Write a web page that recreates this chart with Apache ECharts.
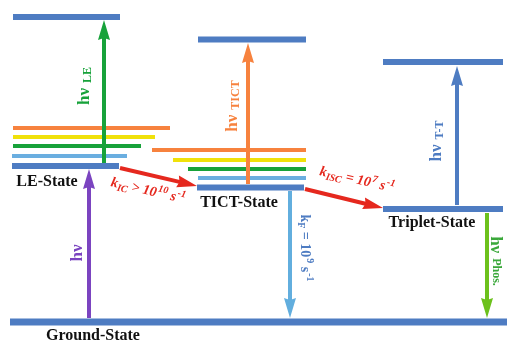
<!DOCTYPE html>
<html>
<head>
<meta charset="utf-8">
<script src="https://cdn.jsdelivr.net/npm/echarts@6/dist/echarts.min.js"></script>
<style>html,body{margin:0;padding:0;background:#fff}#c{width:507px;height:342px}</style>
</head>
<body>
<div id="c"></div>
<script>
// ---- data: electronic states (x-start, x-end, level position) ----
const stateNames = ['Ground', 'LE', 'LE*', 'TICT', 'TICT*', 'T1', 'Tn'];
const stateX0 = [10, 12, 13, 197, 198, 383, 383];
const stateX1 = [507, 119, 120, 304, 306, 503, 503];
const stateY  = [322, 166, 17, 187.5, 39.5, 209, 62];

// vibrational sub-levels of LE and TICT states (orange, yellow, green, light blue)
const vibLEX0 = [13, 13, 13, 12];
const vibLEX1 = [170, 155, 141, 127];
const vibLEY  = [128, 137, 146, 156];
const vibTICTX0 = [152, 173, 188, 198];
const vibTICTX1 = [306, 306, 306, 306];
const vibTICTY  = [150, 160, 169, 178];

// transitions (tail -> tip)
const arrowNames = ['hv', 'hvLE', 'hvTICT', 'hvTT', 'kF', 'phos', 'kIC', 'kISC'];
const arrowX0 = [89, 104, 248, 457, 290, 487, 120, 305];
const arrowY0 = [318, 163, 184, 205, 191, 213, 168, 189];
const arrowX1 = [89, 104, 248, 457, 290, 487, 197, 383];
const arrowY1 = [169, 20, 43, 66, 318, 318, 186, 208];

// text labels and their anchors
const labelTexts = [
  '{s|LE-State}', '{s|TICT-State}', '{s|Triplet-State}', '{s|Ground-State}',
  '{h|hν}{u|LE}', '{h|hν}{u|TICT}', '{h|hν}{u|T-T}', '{h|hν}',
  '{k|k}{d|F}{k| = 10}{p|9}{k| s}{p|-1}', '{h|hν}{q|Phos.}',
  '{k|k}{d|IC}{k| > 10}{p|10}{k| s}{p|-1}', '{k|k}{d|ISC}{k| = 10}{p|7}{k| s}{p|-1}'
];
const labelX = [47, 239, 432, 93, 85, 233, 437, 78, 305, 495, 148, 357];
const labelY = [182, 203, 223, 336, 86, 106, 141, 253, 248, 261, 191, 180];
const labelRot = [0, 0, 0, 0, 90, 90, 90, 90, -90, -90, -13, -13];

// ---- styles ----
const BLUE = '#4e7cc2';
const stateWidth = [7, 6, 6, 6, 6, 6, 6];
const vibColors = ['#f7823e', '#f0e10a', '#17a23a', '#6aaee0'];
const arrowColors = ['#7b44c0', '#17a23a', '#f7823e', '#4e7cc2', '#62aede', '#6cc11c', '#e5281e', '#e5281e'];
const labelColors = ['#111', '#111', '#111', '#111', '#17a23a', '#f7823e', '#4e7cc2', '#7b44c0', '#4e7cc2', '#3aa83a', '#e5281e', '#e5281e'];
const labelItalic = [false, false, false, false, false, false, false, false, false, false, true, true];
const FONT = '"Liberation Serif","Times New Roman",serif';

const levelData = [];
stateNames.forEach((n, i) => levelData.push([stateX0[i], stateX1[i], stateY[i], stateWidth[i], BLUE]));
vibLEY.forEach((y, i) => levelData.push([vibLEX0[i], vibLEX1[i], y, 4, vibColors[i]]));
vibTICTY.forEach((y, i) => levelData.push([vibTICTX0[i], vibTICTX1[i], y, 4, vibColors[i]]));

const arrowData = arrowNames.map((n, i) => [arrowX0[i], arrowY0[i], arrowX1[i], arrowY1[i]]);
const labelData = labelTexts.map((t, i) => [labelX[i], labelY[i], i]);

function richFor(i) {
  const c = labelColors[i];
  const st = labelItalic[i] ? 'italic' : 'normal';
  const base = {fontFamily: FONT, fontWeight: 'bold', fill: c, fontStyle: st, verticalAlign: 'middle'};
  return {
    s: Object.assign({}, base, {fontSize: 16}),
    h: Object.assign({}, base, {fontSize: 17}),
    u: Object.assign({}, base, {fontSize: 12, padding: [6, 0, 0, 5]}),
    q: Object.assign({}, base, {fontSize: 12, padding: [0, 0, 2, 5]}),
    k: Object.assign({}, base, {fontSize: 14}),
    d: Object.assign({}, base, {fontSize: 10, padding: [8, 0, 0, 0]}),
    p: Object.assign({}, base, {fontSize: 10, padding: [0, 0, 9, 1]})
  };
}

const chart = echarts.init(document.getElementById('c'), null, {renderer: 'canvas'});
chart.setOption({
  animation: false,
  backgroundColor: '#fff',
  grid: {left: 0, right: 0, top: 0, bottom: 0},
  xAxis: {type: 'value', min: 0, max: 507, show: false},
  yAxis: {type: 'value', min: 0, max: 342, inverse: true, show: false},
  series: [
    {
      type: 'custom', name: 'levels', data: levelData, silent: true,
      renderItem: function (params, api) {
        const a = api.coord([api.value(0), api.value(2)]);
        const b = api.coord([api.value(1), api.value(2)]);
        const w = levelData[params.dataIndex][3];
        return {type: 'rect', shape: {x: a[0], y: a[1] - w / 2, width: b[0] - a[0], height: w},
                style: {fill: levelData[params.dataIndex][4]}};
      }
    },
    {
      type: 'custom', name: 'arrows', data: arrowData, silent: true,
      renderItem: function (params, api) {
        const p0 = api.coord([api.value(0), api.value(1)]);
        const p1 = api.coord([api.value(2), api.value(3)]);
        const dx = p1[0] - p0[0], dy = p1[1] - p0[1];
        const len = Math.sqrt(dx * dx + dy * dy);
        const ux = dx / len, uy = dy / len, nx = -uy, ny = ux;
        const L = 20, W = 6, notch = 2;
        const bx = p1[0] - ux * L, by = p1[1] - uy * L;
        const col = arrowColors[params.dataIndex];
        return {
          type: 'group',
          children: [
            {type: 'line', shape: {x1: p0[0], y1: p0[1], x2: bx + ux * 3, y2: by + uy * 3},
             style: {stroke: col, lineWidth: 4}},
            {type: 'polygon', shape: {points: [
              [p1[0], p1[1]], [bx + nx * W, by + ny * W], [bx + ux * notch, by + uy * notch], [bx - nx * W, by - ny * W]
            ]}, style: {fill: col}}
          ]
        };
      }
    },
    {
      type: 'custom', name: 'labels', data: labelData, silent: true,
      renderItem: function (params, api) {
        const i = params.dataIndex;
        const p = api.coord([api.value(0), api.value(1)]);
        return {
          type: 'text', x: p[0], y: p[1], rotation: labelRot[i] * Math.PI / 180,
          style: {text: labelTexts[i], rich: richFor(i), align: 'center', verticalAlign: 'middle',
                  textAlign: 'center', textVerticalAlign: 'middle',
                  fontFamily: FONT, fontWeight: 'bold', fontSize: 14, fill: labelColors[i]}
        };
      }
    }
  ]
});
</script>
</body>
</html>
